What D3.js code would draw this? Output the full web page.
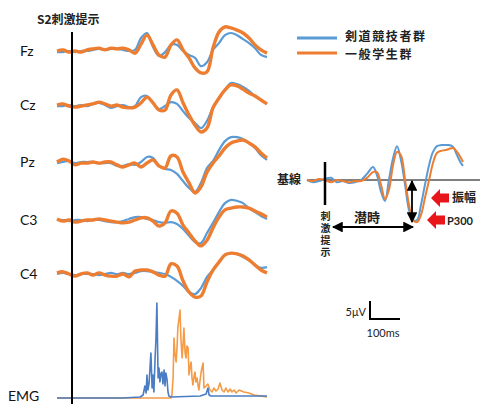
<!DOCTYPE html>
<html><head><meta charset="utf-8">
<script src="https://cdn.jsdelivr.net/npm/d3@7"></script>
<style>body{margin:0;background:#fff}svg{display:block}</style>
</head><body>
<script>
// ---------- data ----------
const seriesNames = ["剣道競技者群", "一般学生群"];
const channels = ["Fz", "Cz", "Pz", "C3", "C4"];
// time in ms relative to S2 stimulus
const times = [-50,-30,-10,10,30,50,70,90,110,130,150,170,190,210,230,250,270,290,310,330,350,370,390,410,430,450,470,490,510,530,550,570,590,610,630,650];
// amplitudes in µV (positive plotted downward)
const kendoFz = [0.3,0.3,0,0.3,0,0,-0.3,-0.6,-0.3,-0.6,-0.6,-0.3,0,-0.3,-3.6,-5.0,-1.1,1.4,0.3,-1.7,-1.7,0,1.1,1.9,4.2,3.1,-0.3,-2.2,-4.4,-5.0,-4.4,-3.3,-2.2,-0.8,1.1,1.7];
const studentFz = [0,-0.3,0.3,0,0.3,-0.3,-0.6,-0.8,-0.3,-0.8,-0.6,-0.8,-0.3,0.6,-1.9,-4.4,-1.7,1.1,1.7,-1.7,-3.1,-0.3,1.9,4.7,6.1,5.8,-0.8,-5.3,-6.7,-6.4,-5.8,-5.0,-3.6,-1.7,-0.3,0.6];
const kendoCz = [0.3,0.3,0,0.3,0,0.3,-0.3,-0.6,0,0.8,0.3,0,0.6,0.3,-2.2,-2.5,-0.6,1.1,0.3,-0.8,-0.3,1.7,3.6,5.0,6.4,4.4,0.6,-1.9,-4.2,-6.1,-5.8,-5.0,-3.9,-2.5,-1.4,-0.3];
const studentCz = [0,-0.3,0.3,0.6,0.3,0,-0.3,-0.8,-0.3,0.3,0,0.6,0.8,0.6,-0.6,-2.2,-0.6,1.4,1.4,-2.8,-4.2,-0.6,2.8,5.6,7.5,6.4,0.8,-1.9,-4.2,-5.6,-5.3,-4.4,-3.3,-2.5,-1.4,-0.3];
const kendoPz = [0.3,0,-0.3,0.3,0,0,0,0.3,0.3,0.3,1.1,1.1,0.6,0.8,0,-1.4,-1.1,1.1,1.9,2.2,3.3,5.3,7.2,8.3,5.8,1.7,-0.3,-3.3,-5.8,-6.9,-6.9,-6.4,-5.3,-3.9,-1.9,-0.6];
const studentPz = [0,-0.8,-0.3,0.8,0.3,0.3,0,0.3,0,0,0.8,1.4,0.8,0.3,1.4,0.3,-0.6,1.1,1.7,-1.7,-1.4,2.8,5.8,8.6,6.9,2.8,0.3,-1.7,-3.9,-5.3,-5.8,-6.1,-5.3,-4.2,-2.5,-1.1];
const kendoC3 = [0,0,0.3,0,0,0.3,0,0,0.3,0.6,0.6,0.3,-0.3,-0.8,-0.8,-0.3,0,0.6,0.8,0.6,1.1,2.5,4.4,6.1,6.4,3.6,0.8,-2.2,-4.7,-5.6,-5.3,-4.7,-3.3,-2.2,-1.1,-0.3];
const studentC3 = [-0.3,0.3,0,0.6,0.3,0,0,-0.3,0,0.3,0.6,0.8,0.6,0,-0.6,-0.6,0.3,1.7,0.8,-2.5,-1.9,1.4,3.6,5.8,7.2,5.6,2.2,-0.8,-2.8,-3.3,-3.6,-3.6,-3.3,-2.5,-1.7,-0.8];
const kendoC4 = [0,-0.3,0,0.3,0,0,0,0.3,0,-0.3,0,-0.3,0,-0.3,-0.8,-0.8,-0.6,-0.3,0,0.8,1.9,3.3,5.0,5.6,3.9,0.8,-1.1,-3.3,-5.3,-5.8,-5.6,-4.7,-3.9,-2.5,-1.7,-1.9];
const studentC4 = [-0.3,-0.6,0,0.6,0,-0.3,0.3,-0.3,0.3,0.6,0.6,0,0.8,-0.8,-1.1,-1.1,-0.6,0.3,0.6,-2.8,-2.2,1.9,5.0,6.4,6.1,2.2,-1.1,-3.3,-5.3,-5.8,-5.6,-5.0,-3.9,-2.5,-1.1,-0.3];

// EMG (rectified, arbitrary units)
const emgKendoTime = [-50,167,227,237,243,247,250,253,257,260,263,267,270,273,277,280,283,287,290,293,297,300,303,307,310,313,317,320,323,330,427,447,453,457,463,650];
const emgKendo = [0,0,1,3,12,5,23,8,15,30,45,10,23,6,40,60,95,20,30,16,25,26,14,28,12,25,18,6,2,1,2,4,10,3,2,2];
const emgStudentTime = [-50,330,333,337,340,343,347,350,353,357,360,363,367,370,373,377,380,383,387,390,393,397,400,403,407,410,413,417,420,423,427,430,433,437,440,447,453,460,467,473,480,487,493,500,507,513,520,527,533,540,547,557,573,590,607,650];
const emgStudent = [0,0,3,20,60,45,36,50,71,80,88,60,40,53,70,45,40,52,50,23,30,36,20,13,22,26,16,20,13,8,18,25,30,35,10,12,14,8,6,10,7,9,15,8,6,10,6,9,6,8,5,8,6,5,3,1];

// schematic (right) illustration
const diagTime = [-60,-40,-20,0,20,40,60,80,100,120,140,160,173,187,200,213,227,240,253,267,280,293,307,320,333,347,360,373,387,400,413,427,440,453,460];
const diagKendo = [0,0.6,0.3,-0.3,-0.6,0.6,0.3,0.8,0.6,0,-1.7,-3.6,-1.4,3.3,5.8,0,-6.1,-9.4,-5.6,1.4,8.3,11.1,11.1,6.9,1.4,-4.2,-7.8,-9.4,-9.7,-9.7,-9.7,-9.2,-6.9,-4.7,-3.9];
const diagStudent = [0,0.3,-0.3,0,0.6,0,0.3,0.6,0.3,0.3,-0.6,-2.2,-2.2,1.4,5.3,2.8,-4.2,-7.8,-6.9,0,6.9,11.1,11.7,9.7,5.0,0,-4.7,-7.5,-8.1,-8.3,-8.6,-8.9,-7.8,-6.1,-5.0];

// ---------- drawing ----------
const W = 480, H = 404;
const BLUE = "#5B9BD5", ORANGE = "#ED7D31";
const EMG_BLUE = "#4A7DC4", EMG_ORANGE = "#F59A45";
const JP = "'Noto Sans CJK JP', sans-serif";
const LAT = "Lato, 'Open Sans', sans-serif";

const svg = d3.select("body").append("svg").attr("width", W).attr("height", H);

const x = d3.scaleLinear().domain([-50, 650]).range([57, 267]);
const bases = [51, 105, 162, 220, 274];
const kendoData = [kendoFz, kendoCz, kendoPz, kendoC3, kendoC4];
const studentData = [studentFz, studentCz, studentPz, studentC3, studentC4];

channels.forEach((ch, i) => {
  const y = d3.scaleLinear().domain([-10, 10]).range([bases[i] - 36, bases[i] + 36]);
  const line = d3.line().x((d, j) => x(times[j])).y(d => y(d)).curve(d3.curveCatmullRom.alpha(0.5));
  svg.append("path").attr("d", line(kendoData[i])).attr("fill", "none")
    .attr("stroke", BLUE).attr("stroke-width", 2.2).attr("stroke-linejoin", "round");
  svg.append("path").attr("d", line(studentData[i])).attr("fill", "none")
    .attr("stroke", ORANGE).attr("stroke-width", 3.4).attr("stroke-linejoin", "round");
  svg.append("text").attr("x", 20).attr("y", bases[i]).attr("dy", "0.35em")
    .attr("font-family", LAT).attr("font-size", 14).attr("fill", "#111").text(ch);
});

// EMG
const emgBase = 398;
const yE = d3.scaleLinear().domain([0, 100]).range([emgBase, emgBase - 100]);
const emgLine = (t) => d3.line().x((d, j) => x(t[j])).y(d => yE(d));
svg.append("path").attr("d", emgLine(emgStudentTime)(emgStudent)).attr("fill", "none")
  .attr("stroke", EMG_ORANGE).attr("stroke-width", 1.6).attr("stroke-linejoin", "round");
svg.append("path").attr("d", emgLine(emgKendoTime)(emgKendo)).attr("fill", "none")
  .attr("stroke", EMG_BLUE).attr("stroke-width", 1.6).attr("stroke-linejoin", "round");
svg.append("text").attr("x", 8).attr("y", 396).attr("dy", "0.35em")
  .attr("font-family", LAT).attr("font-size", 14).attr("fill", "#111").text("EMG");

// stimulus line
svg.append("line").attr("x1", x(0)).attr("x2", x(0)).attr("y1", 32).attr("y2", H)
  .attr("stroke", "#000").attr("stroke-width", 2);
svg.append("text").attr("x", 37).attr("y", 20).attr("dy", "0.35em")
  .attr("font-family", JP).attr("font-weight", "bold").attr("font-size", 12).attr("fill", "#222").text("S2刺激提示");

// legend
[BLUE, ORANGE].forEach((c, i) => {
  const yy = 38 + i * 15;
  svg.append("line").attr("x1", 297).attr("x2", 337).attr("y1", yy).attr("y2", yy)
    .attr("stroke", c).attr("stroke-width", 3);
  svg.append("text").attr("x", 345).attr("y", 37 + i * 17.6).attr("dy", "0.36em")
    .attr("font-family", JP).attr("font-weight", "bold").attr("font-size", 12)
    .attr("letter-spacing", 1.6).attr("fill", "#222").text(seriesNames[i]);
});

// schematic
const dx = d3.scaleLinear().domain([0, 100]).range([325, 355]);
const dy = d3.scaleLinear().domain([-10, 10]).range([144, 216]);
const dline = d3.line().x((d, j) => dx(diagTime[j])).y(d => dy(d)).curve(d3.curveCatmullRom.alpha(0.5));
svg.append("line").attr("x1", 307).attr("x2", 480).attr("y1", dy(0)).attr("y2", dy(0)).attr("stroke", "#000").attr("stroke-width", 1);
svg.append("path").attr("d", dline(diagKendo)).attr("fill", "none").attr("stroke", BLUE).attr("stroke-width", 2);
svg.append("path").attr("d", dline(diagStudent)).attr("fill", "none").attr("stroke", ORANGE).attr("stroke-width", 2);
svg.append("text").attr("x", 277).attr("y", dy(0)).attr("dy", "0.36em")
  .attr("font-family", JP).attr("font-weight", "bold").attr("font-size", 12).attr("fill", "#222").text("基線");
svg.append("line").attr("x1", dx(0)).attr("x2", dx(0)).attr("y1", 162).attr("y2", 205).attr("stroke", "#000").attr("stroke-width", 2.5);
const vFO = svg.append("foreignObject").attr("x", dx(0) - 8).attr("y", 211).attr("width", 16).attr("height", 48);
vFO.append("xhtml:div")
  .style("font-family", JP).style("font-weight", "bold").style("font-size", "10px")
  .style("line-height", "16px").style("color", "#222")
  .style("writing-mode", "vertical-rl").style("text-orientation", "upright").style("letter-spacing", "2px")
  .text("刺激提示");
// arrows
const defs = svg.append("defs");
defs.append("marker").attr("id", "ah").attr("viewBox", "0 0 10 10").attr("refX", 9).attr("refY", 5)
  .attr("markerWidth", 6).attr("markerHeight", 6).attr("orient", "auto-start-reverse")
  .append("path").attr("d", "M0,0L10,5L0,10z").attr("fill", "#000");
const troughT = 300;
svg.append("line").attr("x1", dx(troughT) - 3).attr("x2", dx(troughT) - 3).attr("y1", dy(0) + 1).attr("y2", 222)
  .attr("stroke", "#000").attr("stroke-width", 1.8).attr("marker-start", "url(#ah)").attr("marker-end", "url(#ah)");
svg.append("line").attr("x1", dx(0) + 8).attr("x2", dx(troughT) - 2).attr("y1", 227).attr("y2", 227)
  .attr("stroke", "#000").attr("stroke-width", 1.8).attr("marker-start", "url(#ah)").attr("marker-end", "url(#ah)");
svg.append("text").attr("x", 367).attr("y", 217).attr("text-anchor", "middle").attr("dy", "0.36em")
  .attr("font-family", JP).attr("font-weight", "bold").attr("font-size", 13).attr("fill", "#222").text("潜時");
// red arrows
function redArrow(xTip, yc) {
  const p = `M${xTip},${yc} L${xTip+9},${yc-9} L${xTip+9},${yc-4.5} L${xTip+18},${yc-4.5} L${xTip+18},${yc+4.5} L${xTip+9},${yc+4.5} L${xTip+9},${yc+9} Z`;
  svg.append("path").attr("d", p).attr("fill", "#E8161B");
}
redArrow(431, 198);
redArrow(427, 220);
svg.append("text").attr("x", 452).attr("y", 198).attr("dy", "0.36em")
  .attr("font-family", JP).attr("font-weight", "bold").attr("font-size", 12).attr("fill", "#222").text("振幅");
svg.append("text").attr("x", 447).attr("y", 221).attr("dy", "0.36em")
  .attr("font-family", LAT).attr("font-weight", "bold").attr("font-size", 11).attr("fill", "#222").text("P300");

// scale bar
svg.append("path").attr("d", `M370,301 L370,319 L${370 + 0.3 * 100},319`).attr("fill", "none")
  .attr("stroke", "#000").attr("stroke-width", 2);
svg.append("text").attr("x", 366).attr("y", 312).attr("text-anchor", "end").attr("dy", "0.36em")
  .attr("font-family", LAT).attr("font-size", 11).attr("fill", "#222").text("5μV");
svg.append("text").attr("x", 383).attr("y", 333).attr("text-anchor", "middle").attr("dy", "0.36em")
  .attr("font-family", LAT).attr("font-size", 11).attr("fill", "#222").text("100ms");
</script>
</body></html>
